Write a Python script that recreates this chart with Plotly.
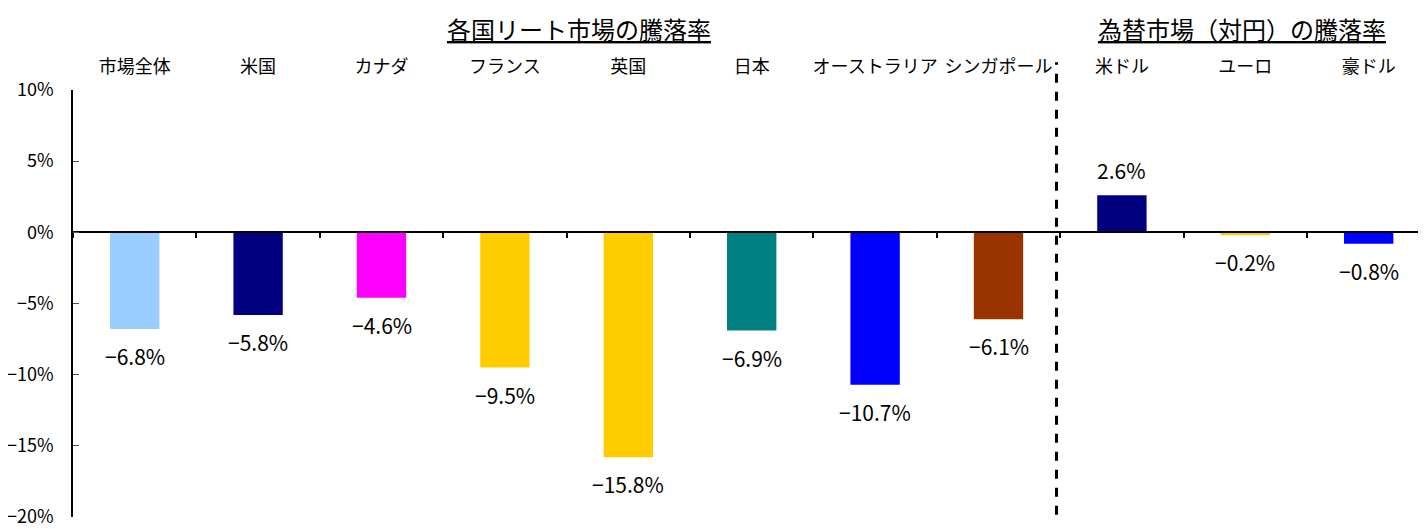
import plotly.graph_objects as go

categories = ["市場全体", "米国", "カナダ", "フランス", "英国", "日本",
              "オーストラリア", "シンガポール", "米ドル", "ユーロ", "豪ドル"]
values = [-6.8, -5.8, -4.6, -9.5, -15.8, -6.9, -10.7, -6.1, 2.6, -0.2, -0.8]
colors = ["#99CCFF", "#000080", "#FF00FF", "#FFCC00", "#FFCC00", "#008080",
          "#0000FF", "#993300", "#000080", "#FFCC00", "#0000FF"]
y_ticks = [-20, -15, -10, -5, 0, 5, 10]
group_titles = ["各国リート市場の騰落率", "為替市場（対円）の騰落率"]
group_title_x = [3.6, 8.97]
divider_x = 7.47

FONT = "Noto Sans CJK JP"
x = list(range(len(categories)))


def fmt(v, dec=1):
    return f"{v:.{dec}f}%".replace("-", "\u2212")


fig = go.Figure()
fig.add_trace(go.Bar(x=x, y=values, marker=dict(color=colors, line=dict(width=0)),
                     width=0.4, hoverinfo="skip", showlegend=False))
fig.add_trace(go.Scatter(x=x, y=[0] * len(x), xaxis="x2", mode="markers",
                         marker=dict(opacity=0), hoverinfo="skip", showlegend=False))

for xi, v in zip(x, values):
    fig.add_annotation(x=xi, y=v, xref="x", yref="y", text=fmt(v), showarrow=False,
                       yanchor="top" if v < 0 else "bottom",
                       yshift=-10 if v < 0 else 8,
                       font=dict(family=FONT, size=21, color="#000"))

# page body has an 8px margin: figure is placed at (8, 8)
L = 65
W = 1418
H = 521
T = 82
B = 12
plot_h = H - T - B

for gx, gt in zip(group_title_x, group_titles):
    fig.add_annotation(x=gx, y=1 + (T - 1) / plot_h, xref="x", yref="paper",
                       text=f"<u>{gt}</u>", showarrow=False, yanchor="top",
                       xanchor="center",
                       font=dict(family=FONT, size=24, color="#000"))

fig.add_shape(type="line", xref="x", yref="paper", x0=divider_x, x1=divider_x,
              y0=0.005, y1=1.065, line=dict(color="#000", width=3, dash="9px,9px"))

step = 123.4
xmax = (W - L) / step - 0.5
xr = [-0.5, xmax]

fig.update_layout(
    width=W, height=H,
    margin=dict(l=L, r=0, t=T, b=B, autoexpand=False),
    plot_bgcolor="white", paper_bgcolor="white",
    showlegend=False,
    font=dict(family=FONT, color="#000"),
    xaxis=dict(range=xr, anchor="free", position=2 / 3, showline=True,
               linecolor="#000", linewidth=2, ticks="outside",
               tickvals=[i + 0.5 for i in range(-1, len(categories))],
               ticklen=5, tickwidth=2, tickcolor="#000", showticklabels=False,
               showgrid=False, zeroline=False, automargin=False),
    xaxis2=dict(range=xr, overlaying="x", side="top", anchor="y",
                tickvals=x, ticktext=categories, ticks="", showline=False,
                showgrid=False, zeroline=False,
                tickfont=dict(family=FONT, size=18, color="#000"),
                ticklabelstandoff=12, automargin=False),
    yaxis=dict(range=[-20, 10], tickvals=y_ticks,
               ticktext=[fmt(t, 0) for t in y_ticks],
               ticks="inside", ticklen=6, tickcolor="#555", tickwidth=1,
               showline=True, linecolor="#000", linewidth=1.5,
               showgrid=False, zeroline=False,
               tickfont=dict(family=FONT, size=18, color="#000"),
               ticklabelstandoff=14, automargin=False),
)

fig.write_html("out.html")
